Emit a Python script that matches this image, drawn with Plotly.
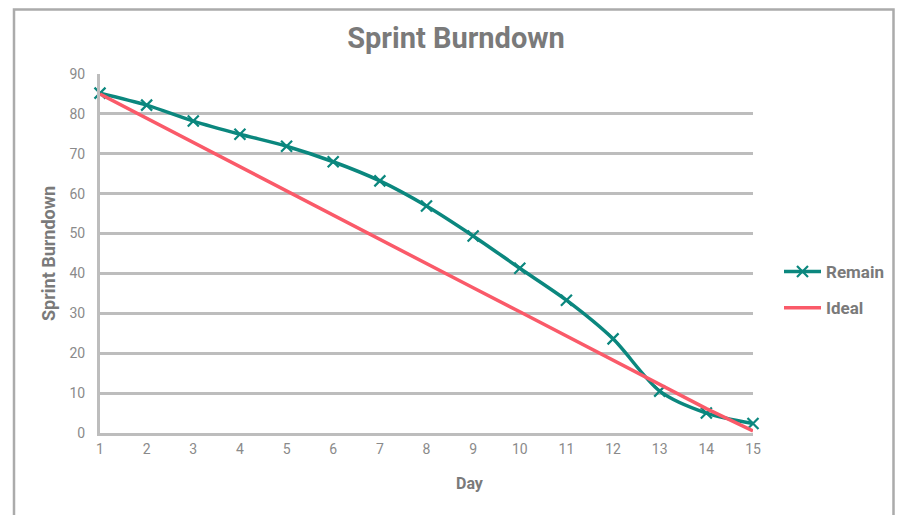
import plotly.graph_objects as go

days = list(range(1, 16))
remain = [85.2, 82.2, 78.2, 74.9, 71.9, 68.0, 63.2, 56.9, 49.4, 41.3, 33.3, 23.6, 10.5, 5.0, 2.4]
ideal = [85.0, 78.9, 72.9, 66.8, 60.7, 54.6, 48.6, 42.5, 36.4, 30.4, 24.3, 18.2, 12.1, 6.1, 0.5]
y_ticks = [0, 10, 20, 30, 40, 50, 60, 70, 80, 90]

TEAL = "#0B877E"
RED = "#FA5A69"
GRID = "#bdbdbd"
TXT = "#8a8a8a"
FONT = "Roboto"

OFF = 8  # page body margin
W, H = 903 - 2 * OFF, 523 - 2 * OFF
L, T = 100 - OFF, 74 - OFF
pw, ph = 653, 359
R = W - L - pw
B = H - T - ph

def px_x(p):
    return (p - OFF - L) / pw

def px_y(p):
    return (H - B - (p - OFF)) / ph

fig = go.Figure()
fig.add_trace(go.Scatter(
    x=days, y=remain, name="Remain", mode="lines+markers",
    line=dict(color=TEAL, width=3.5, shape="spline", smoothing=0.8),
    marker=dict(symbol="x-thin-open", size=11, line=dict(color=TEAL, width=2.2), color=TEAL),
    cliponaxis=False, legendgroup="a",
))
fig.add_trace(go.Scatter(
    x=days, y=ideal, name="Ideal", mode="lines",
    line=dict(color=RED, width=3.5),
    cliponaxis=False, legendgroup="b",
))

fig.add_shape(type="rect", xref="paper", yref="paper",
              x0=px_x(14), x1=px_x(893.5), y0=px_y(560), y1=px_y(9.5),
              line=dict(color="#ababab", width=2.5), fillcolor="rgba(0,0,0,0)", layer="below")

fig.add_annotation(text="<b>Day</b>", xref="paper", yref="paper",
                   x=px_x(470), y=px_y(483), xanchor="center", yanchor="middle",
                   showarrow=False, font=dict(family=FONT, size=16, color="#7a7a7a"))

fig.update_layout(
    width=W, height=H,
    margin=dict(l=L, r=R, t=T, b=B, autoexpand=False),
    paper_bgcolor="white", plot_bgcolor="white",
    font=dict(family=FONT, color=TXT, size=14),
    title=dict(text="<b>Sprint Burndown</b>", x=(456 - OFF) / W, xanchor="center",
               y=1 - (38 - OFF) / H, yanchor="middle",
               font=dict(family=FONT, size=29, color="#7a7a7a")),
    legend=dict(x=px_x(779), xanchor="left", y=px_y(290), yanchor="middle",
                tracegroupgap=11, itemwidth=37,
                font=dict(family=FONT, size=17, color="#7a7a7a", weight="bold")),
    showlegend=True,
)
fig.update_xaxes(
    range=[1, 15], tickvals=days, ticktext=[str(d) for d in days],
    showgrid=False, zeroline=False,
    showline=True, linecolor=GRID, linewidth=3,
    ticks="", ticklabelstandoff=1,
    tickfont=dict(family=FONT, size=14, color=TXT),
)
fig.update_yaxes(
    range=[0, 90], tickvals=y_ticks,
    showgrid=True, gridcolor=GRID, gridwidth=2.5,
    zeroline=False,
    showline=True, linecolor=GRID, linewidth=3,
    ticks="", ticklabelstandoff=9,
    tickfont=dict(family=FONT, size=14, color=TXT),
    title=dict(text="<b>Sprint Burndown</b>", standoff=10, font=dict(family=FONT, size=18, color="#7a7a7a")),
)

fig.write_html("out.html")
